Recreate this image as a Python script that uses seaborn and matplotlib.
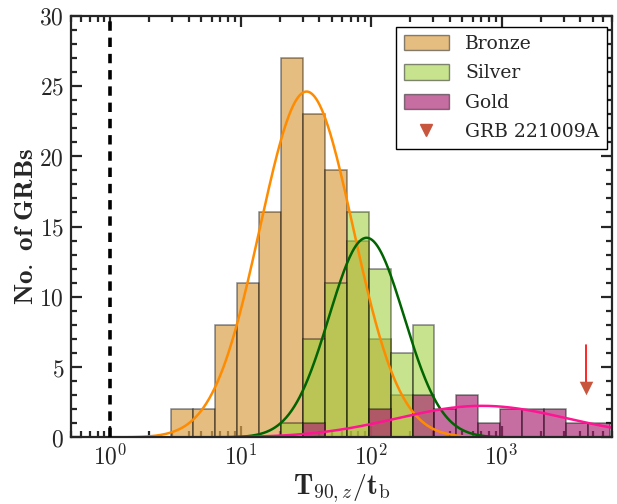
import numpy as np
import pandas as pd
import matplotlib
matplotlib.use("Agg")
import matplotlib.pyplot as plt
import seaborn as sns
from matplotlib.ticker import FixedLocator, MultipleLocator, FuncFormatter, NullFormatter
from matplotlib.patches import Patch
from matplotlib.lines import Line2D

# ---- data ----
# common log10 bin edges (21 edges, 20 bins)
log_edges = [0.467, 0.6352, 0.8034, 0.9716, 1.1398, 1.308, 1.4762, 1.6444, 1.8126,
             1.9808, 2.149, 2.3172, 2.4854, 2.6536, 2.8218, 2.99, 3.1582, 3.3264,
             3.4946, 3.6628, 3.831]
bronze_counts = [2, 2, 8, 11, 16, 27, 23, 19, 14, 7, 3, 0, 0, 0, 0, 0, 0, 0, 0, 0]
silver_counts = [0, 0, 0, 0, 0, 1, 7, 11, 16, 12, 6, 8, 0, 0, 0, 0, 0, 0, 0, 0]
gold_counts = [0, 0, 0, 0, 0, 0, 1, 0, 0, 2, 0, 3, 2, 3, 1, 2, 2, 2, 1, 1]

# Gaussian fits in log10 space: (centre, sigma, amplitude)
bronze_fit = (1.505, 0.357, 24.6)
silver_fit = (1.965, 0.287, 14.2)
gold_fit = (2.85, 0.65, 2.25)

grb_x = 4450.0
grb_y = 3.5
grb_arrow_top = 6.6
ref_line_x = 1.0

# ---- style ----
sns.set_style("ticks")
plt.rcParams["mathtext.fontset"] = "cm"
plt.rcParams["font.family"] = ["DejaVu Serif"]

fig = plt.figure(figsize=(6.17, 5.04), dpi=100)
ax = fig.add_axes([0.115, 0.132, 0.877, 0.837])

centers = [10 ** ((log_edges[i] + log_edges[i + 1]) / 2) for i in range(len(log_edges) - 1)]
df = pd.DataFrame({"x": centers, "bronze": bronze_counts,
                   "silver": silver_counts, "gold": gold_counts})

bronze_col = "#DAA24A"
silver_col = "#9ACD32"
gold_col = "#A8206F"
edge = (0, 0, 0, 0.45)

sns.histplot(data=df, x="x", weights="bronze", bins=log_edges, log_scale=True,
             facecolor=matplotlib.colors.to_rgba(bronze_col, 0.7), edgecolor=edge,
             linewidth=1.1, ax=ax)
sns.histplot(data=df, x="x", weights="silver", bins=log_edges, log_scale=True,
             facecolor=matplotlib.colors.to_rgba(silver_col, 0.55), edgecolor=edge,
             linewidth=1.1, ax=ax)
sns.histplot(data=df, x="x", weights="gold", bins=log_edges, log_scale=True,
             facecolor=matplotlib.colors.to_rgba(gold_col, 0.65), edgecolor=edge,
             linewidth=1.1, ax=ax)

# fit curves
lx = np.linspace(-0.3, 3.85, 600)
curves = []
for name, (mu, sg, amp) in [("bronze", bronze_fit), ("silver", silver_fit), ("gold", gold_fit)]:
    curves.append(pd.DataFrame({"x": 10 ** lx,
                                "y": amp * np.exp(-0.5 * ((lx - mu) / sg) ** 2),
                                "g": name}))
cdf = pd.concat(curves)
sns.lineplot(data=cdf, x="x", y="y", hue="g",
             palette={"bronze": "darkorange", "silver": "darkgreen", "gold": "deeppink"},
             linewidth=1.8, legend=False, ax=ax)

ax.axvline(ref_line_x, color="k", ls=(0, (2.6, 1.9)), lw=2.6, zorder=5)

# GRB 221009A
ax.plot([grb_x, grb_x], [grb_arrow_top, grb_y], color="red", lw=1.2, zorder=6)
ax.scatter([grb_x], [grb_y], marker="v", s=95, color="#C8553D", zorder=7, linewidths=0)

ax.set_xlim(0.5, 7030)
ax.set_ylim(0, 30)

ax.yaxis.set_major_locator(MultipleLocator(5))
ax.yaxis.set_minor_locator(MultipleLocator(1))
ax.yaxis.set_major_formatter(FuncFormatter(lambda v, p: r"$%d$" % v))
ax.xaxis.set_major_locator(FixedLocator([1, 10, 100, 1000]))
ax.xaxis.set_major_formatter(FuncFormatter(lambda v, p: r"$10^{%d}$" % round(np.log10(v))))
minors = [m * 10 ** d for d in range(-1, 4) for m in range(2, 10)]
ax.xaxis.set_minor_locator(FixedLocator(minors))
ax.xaxis.set_minor_formatter(NullFormatter())

ax.tick_params(which="both", direction="in", top=True, right=True, labelsize=17, width=1.6)
ax.tick_params(which="major", length=8, pad=5)
ax.tick_params(which="minor", length=4)
for s in ax.spines.values():
    s.set_linewidth(1.6)

ax.set_xlabel(r"$\mathbf{T}_{90,z}/\mathbf{t}_{\mathrm{b}}$", fontsize=20, labelpad=2)
ax.set_ylabel(r"$\mathbf{No.\ of\ GRBs}$", fontsize=19.5, labelpad=0)

handles = [
    Patch(facecolor=matplotlib.colors.to_rgba(bronze_col, 0.7), edgecolor=edge, label="Bronze"),
    Patch(facecolor=matplotlib.colors.to_rgba(silver_col, 0.55), edgecolor=edge, label="Silver"),
    Patch(facecolor=matplotlib.colors.to_rgba(gold_col, 0.65), edgecolor=edge, label="Gold"),
    Line2D([], [], marker="v", ls="none", color="#C8553D", markersize=9, label="GRB 221009A"),
]
leg = ax.legend(handles=handles, loc="upper right", bbox_to_anchor=(607 / 617, 1 - 27 / 504),
                bbox_transform=fig.transFigure, borderaxespad=0, fancybox=False,
                framealpha=1, edgecolor="k", fontsize=13.5, handlelength=2.4,
                handleheight=0.9, labelspacing=0.6, handletextpad=0.9)
leg.get_frame().set_linewidth(1.0)

fig.savefig("out.png", dpi=100)
